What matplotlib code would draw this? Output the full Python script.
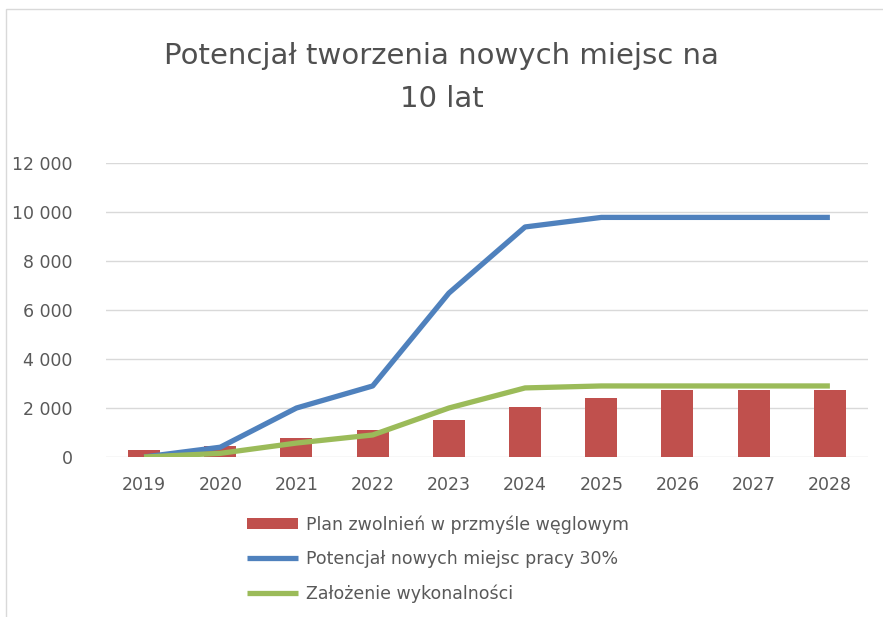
import matplotlib.pyplot as plt
from matplotlib.patches import Rectangle

years = ["2019", "2020", "2021", "2022", "2023", "2024", "2025", "2026", "2027", "2028"]
plan_zwolnien = [290, 460, 790, 1100, 1510, 2040, 2410, 2740, 2740, 2740]
potencjal_30 = [0, 400, 2000, 2900, 6690, 9390, 9780, 9780, 9780, 9780]
zalozenie = [0, 150, 570, 900, 2000, 2820, 2900, 2900, 2900, 2900]
yticks = [0, 2000, 4000, 6000, 8000, 10000, 12000]

plt.rcParams['font.family'] = ['DejaVu Sans']
txt = '#595959'

fig = plt.figure(figsize=(8.83, 6.17), dpi=100)
ax = fig.add_axes([0.120, 0.2593, 0.863, 0.4765])

x = list(range(len(years)))
bars = ax.bar(x, plan_zwolnien, width=0.42, color='#C0504D', zorder=2,
              label='Plan zwolnień w przmyśle węglowym')
l1, = ax.plot(x, potencjal_30, color='#4F81BD', lw=3.8, zorder=3,
              solid_capstyle='butt', label='Potencjał nowych miejsc pracy 30%')
l2, = ax.plot(x, zalozenie, color='#9BBB59', lw=3.8, zorder=4,
              solid_capstyle='butt', label='Założenie wykonalności')

ax.set_xlim(-0.5, len(years) - 0.5)
ax.set_ylim(0, 12000)
ax.set_yticks(yticks)
ax.set_yticklabels([f"{v:,}".replace(",", " ") for v in yticks])
ax.set_xticks(x)
ax.set_xticklabels(years)
ax.tick_params(length=0, labelsize=12.5, colors=txt, pad=14)
ax.tick_params(axis='y', pad=24)
ax.grid(axis='y', color='#D9D9D9', lw=1, zorder=0)
for s in ax.spines.values():
    s.set_visible(False)

fig.text(0.5, 0.874, "Potencjał tworzenia nowych miejsc na\n10 lat", ha='center',
         va='center', fontsize=21, color='#505050', linespacing=1.7)

ax.legend(handles=[bars, l1, l2], loc='upper left', bbox_to_anchor=(0.165, -0.145),
          frameon=False, fontsize=12.5, labelcolor=txt, handlelength=2.9,
          handleheight=0.65, handletextpad=0.5, labelspacing=0.95)

fig.patches.append(Rectangle((0.007, -0.1), 1.2, 1.085, transform=fig.transFigure,
                             fill=False, edgecolor='#D9D9D9', lw=1))

fig.savefig('out.png', dpi=100)
